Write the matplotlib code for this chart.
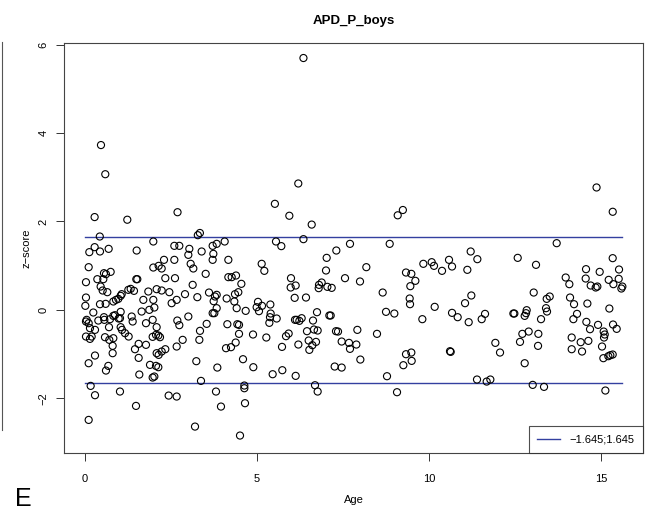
import matplotlib
matplotlib.use("Agg")
import matplotlib.pyplot as plt
from matplotlib.lines import Line2D
import numpy as np

plt.rcParams['font.family'] = ['Liberation Sans', 'DejaVu Sans']

title = "APD_P_boys"
x_label = "Age"
y_label = "z\u2212score"
legend_label = "\u22121.645;1.645"
limit = 1.645
x_ticks = [0, 5, 10, 15]
y_ticks = [-2, 0, 2, 4, 6]

points = [
    # upper region
    (0.465, 3.73), (0.59, 3.07), (0.28, 2.10), (1.23, 2.04), (2.69, 2.21), (0.43, 1.66), (3.28, 1.69), (3.34, 1.74),
    (5.94, 2.13), (6.59, 1.93), (6.35, 5.70), (6.20, 2.86), (5.52, 2.40), (9.09, 2.14), (9.24, 2.26), (6.35, 1.60),
    (14.87, 2.77), (15.34, 2.22),
    # ages 0-5
    (0.126, 1.306), (0.281, 1.419), (0.436, 1.321), (0.688, 1.381), (1.502, 1.343), (1.986, 1.547), (2.597, 1.449),
    (2.742, 1.449), (3.033, 1.381), (3.004, 1.245), (3.391, 1.321), (3.711, 1.449), (3.828, 1.494), (4.060, 1.547),
    (3.731, 1.268), (3.711, 1.132), (4.167, 1.132), (0.107, 0.966), (0.029, 0.626), (0.359, 0.694), (0.533, 0.694),
    (0.552, 0.830), (0.610, 0.808), (0.746, 0.860), (0.455, 0.528), (0.514, 0.438), (0.649, 0.400), (1.492, 0.694),
    (1.521, 0.694), (1.986, 0.958), (2.141, 0.996), (2.229, 0.936), (2.297, 1.132), (2.597, 1.132), (3.072, 1.042),
    (3.149, 0.936), (2.335, 0.717), (2.616, 0.717), (3.508, 0.815), (4.167, 0.740), (4.264, 0.740), (4.390, 0.777),
    (4.545, 0.589), (3.130, 0.566), (1.841, 0.415), (2.083, 0.468), (2.229, 0.438), (2.452, 0.400), (2.907, 0.355),
    (3.266, 0.287), (3.605, 0.392), (3.779, 0.302), (3.828, 0.340), (3.740, 0.196), (4.118, 0.257), (4.360, 0.355),
    (4.457, 0.400), (4.341, 0.189), (0.029, 0.279), (0.436, 0.128), (0.601, 0.136), (0.824, 0.189), (0.901, 0.226),
    (0.969, 0.249), (1.037, 0.317), (1.066, 0.355), (1.260, 0.453), (1.328, 0.475), (1.424, 0.430), (1.696, 0.226),
    (1.986, 0.226), (2.016, 0.053), (2.519, 0.151), (2.665, 0.226), (3.828, 0.038), (3.760, -0.075), (3.711, -0.075),
    (4.409, 0.038), (4.671, -0.023), (0.010, 0.091), (0.242, -0.060), (0.048, -0.226), (0.029, -0.264), (0.107, -0.302),
    (0.388, -0.242), (0.552, -0.166), (0.562, -0.226), (0.727, -0.211), (0.824, -0.136), (0.872, -0.121), (0.979, -0.196),
    (1.037, -0.045), (1.017, -0.189), (1.357, -0.151), (1.386, -0.264), (1.647, -0.038), (1.870, 0.000), (1.967, -0.226),
    (2.083, -0.392), (1.773, -0.302), (2.684, -0.242), (2.742, -0.347), (3.004, -0.151), (3.537, -0.317), (3.343, -0.475),
    (4.138, -0.325), (4.428, -0.325), (0.145, -0.415), (0.291, -0.453), (0.194, -0.604), (0.145, -0.657), (0.029, -0.604),
    (0.698, -0.392), (1.037, -0.392), (1.076, -0.453), (1.163, -0.528), (1.269, -0.604), (0.581, -0.619), (0.707, -0.679),
    (0.824, -0.642), (0.804, -0.815), (0.804, -0.981), (1.560, -0.770), (1.773, -0.792), (1.453, -0.891), (1.967, -0.611),
    (2.064, -0.566), (2.132, -0.581), (2.180, -0.619), (2.839, -0.679), (2.665, -0.830), (2.083, -0.981), (2.141, -1.019),
    (2.229, -0.943), (2.335, -0.891), (3.324, -0.679), (4.099, -0.868), (4.244, -0.845), (4.380, -0.740), (4.477, -0.543),
    (4.477, -0.340), (0.291, -1.034), (0.107, -1.208), (0.610, -1.374), (0.678, -1.268), (1.560, -1.087), (1.579, -1.464),
    (1.890, -1.245), (2.064, -1.268), (2.132, -1.298), (1.967, -1.532), (2.016, -1.509), (3.236, -1.162), (3.847, -1.306),
    (4.593, -1.117), (3.372, -1.608), (0.165, -1.721), (0.291, -1.932), (1.017, -1.849), (1.483, -2.174), (2.432, -1.940),
    (2.665, -1.962), (3.808, -1.849), (3.953, -2.189), (4.632, -1.713), (4.632, -1.774), (4.651, -2.113), (0.107, -2.491),
    (3.198, -2.642), (4.506, -2.845),
    # ages 5-10
    (5.552, 1.547), (5.707, 1.442), (7.703, 1.494), (8.857, 1.494), (7.306, 1.343), (7.025, 1.177),
    (7.006, 0.891), (5.136, 1.042), (5.213, 0.883), (8.178, 0.966), (5.988, 0.717), (5.979, 0.506), (6.124, 0.551),
    (6.793, 0.491), (6.802, 0.566), (6.880, 0.619), (7.045, 0.521), (7.171, 0.498), (7.558, 0.717), (7.994, 0.642),
    (9.331, 0.845), (9.486, 0.815), (9.603, 0.657), (9.457, 0.536), (8.653, 0.392), (6.095, 0.272), (6.424, 0.279),
    (5.029, 0.181), (4.990, 0.060), (5.058, -0.030), (5.145, 0.091), (5.388, 0.121), (5.397, -0.083), (5.378, -0.166),
    (5.359, -0.294), (5.572, -0.196), (6.105, -0.226), (6.153, -0.226), (6.231, -0.249), (6.298, -0.189), (6.744, -0.053),
    (6.628, -0.242), (7.103, -0.128), (7.142, -0.128), (8.750, -0.045), (8.992, -0.083), (9.438, 0.257), (9.448, 0.128),
    (4.884, -0.558), (5.271, -0.626), (5.843, -0.596), (5.920, -0.536), (6.453, -0.483), (6.657, -0.445), (6.763, -0.468),
    (7.296, -0.483), (7.355, -0.491), (7.917, -0.453), (8.488, -0.543), (7.461, -0.717), (7.674, -0.747), (7.703, -0.883),
    (7.888, -0.785), (6.502, -0.694), (6.609, -0.800), (6.715, -0.725), (6.521, -0.906), (6.202, -0.785), (5.727, -0.838),
    (4.893, -1.298), (5.455, -1.457), (5.736, -1.366), (6.124, -1.494), (7.258, -1.283), (7.461, -1.306), (8.004, -1.125),
    (9.331, -1.004), (9.486, -0.966), (9.496, -1.155), (9.254, -1.253), (8.779, -1.502), (6.686, -1.706), (6.763, -1.849),
    (9.070, -1.864),
    # ages 10-16
    (9.835, 1.042), (10.078, 1.079), (10.145, 0.996), (10.378, 0.883), (10.581, 1.132), (10.669, 0.981), (11.114, 0.906),
    (11.211, 1.321), (11.405, 1.147), (12.578, 1.177), (13.110, 1.019), (13.711, 1.509), (13.973, 0.732), (14.079, 0.581),
    (14.564, 0.921), (14.554, 0.709), (14.700, 0.551), (14.845, 0.506), (14.893, 0.528), (14.961, 0.860), (15.223, 0.679),
    (15.339, 1.170), (15.359, 0.581), (15.523, 0.913), (15.514, 0.702), (15.591, 0.483), (15.620, 0.528), (11.230, 0.325),
    (11.047, 0.151), (10.165, 0.068), (9.806, -0.211), (10.669, -0.068), (10.833, -0.166), (11.153, -0.279), (11.531, -0.211),
    (11.628, -0.091), (12.452, -0.083), (12.481, -0.083), (12.781, -0.136), (12.820, -0.075), (12.839, -0.008), (13.043, 0.392),
    (13.421, 0.249), (13.508, 0.302), (13.401, 0.038), (13.430, -0.038), (13.256, -0.211), (14.099, 0.279), (14.215, 0.128),
    (14.603, 0.143), (14.302, -0.091), (14.196, -0.211), (14.574, -0.272), (14.680, -0.438), (14.913, -0.340), (15.242, 0.030),
    (15.349, -0.332), (15.455, -0.430), (15.077, -0.491), (15.107, -0.558), (15.087, -0.626), (10.610, -0.936), (10.630, -0.951),
    (11.928, -0.747), (12.064, -0.966), (12.713, -0.543), (12.897, -0.491), (13.178, -0.543), (12.645, -0.725), (13.169, -0.815),
    (12.781, -1.208), (14.147, -0.626), (14.409, -0.732), (14.632, -0.702), (14.147, -0.891), (14.448, -0.943), (15.029, -0.830),
    (15.068, -1.094), (15.213, -1.049), (15.339, -1.011), (15.271, -1.026), (11.395, -1.577), (11.676, -1.623), (11.783, -1.577),
    (13.014, -1.698), (13.343, -1.743), (15.126, -1.826),
]
ages = [p[0] for p in points]
zscores = [p[1] for p in points]

W, H = 649, 512
fig = plt.figure(figsize=(W / 100, H / 100), dpi=100)
ax = fig.add_axes([64 / W, 1 - 453 / H, (643 - 64) / W, (453 - 43) / H])

line_col = '#3340a0'
ax.scatter(ages, zscores, s=26, facecolors='none', edgecolors='black', linewidths=0.8, zorder=3)
xr = [min(ages), max(ages)]
ax.plot(xr, [limit, limit], color=line_col, lw=1.0, zorder=2)
ax.plot(xr, [-limit, -limit], color=line_col, lw=1.0, zorder=2)

ax.set_xlim(-0.61, 16.22)
ax.set_ylim(-3.24, 6.04)
ax.set_xticks(x_ticks)
ax.set_yticks(y_ticks)
ax.set_xticklabels([str(t) for t in x_ticks], fontsize=8)
ax.set_yticklabels([str(t).replace('-', '\u2212') for t in y_ticks], fontsize=8, rotation=90, va='center')
ax.tick_params(direction='out', length=6, width=0.7, color='#333333')
ax.tick_params(axis='x', pad=9)
ax.tick_params(axis='y', pad=5)
for s in ax.spines.values():
    s.set_color('#444444')
    s.set_linewidth(0.8)

ax.set_title(title, fontsize=9.5, fontweight='bold', pad=14)
ax.set_xlabel(x_label, fontsize=8, labelpad=8)
ax.set_ylabel(y_label, fontsize=8, labelpad=5)

handle = Line2D([0], [0], color=line_col, lw=1.0)
leg = ax.legend([handle], [legend_label], loc='lower right', fontsize=8, frameon=True,
                fancybox=False, borderaxespad=0, handlelength=2.0, borderpad=0.75, handletextpad=0.9)
leg.get_frame().set_edgecolor('#222222')
leg.get_frame().set_linewidth(0.8)

# fragment of neighbouring panel and panel letter
fig.add_artist(Line2D([2 / W, 2 / W], [1 - 42 / H, 1 - 430 / H], color='#555555', lw=0.8))
fig.text(15 / W, 0.5 / H, 'E', fontsize=18, va='bottom', ha='left')

fig.savefig('out.png', dpi=100)
